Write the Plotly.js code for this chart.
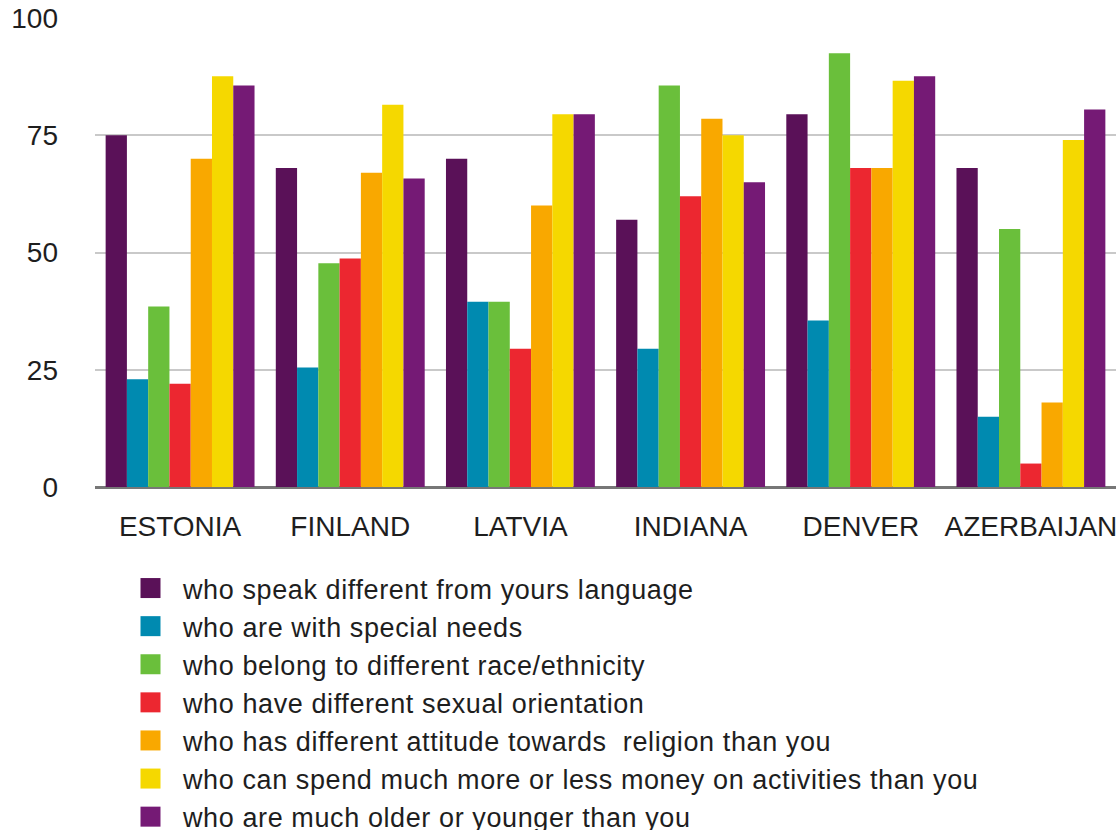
<!DOCTYPE html>
<html>
<head>
<meta charset="utf-8">
<script src="https://cdn.plot.ly/plotly-3.0.1.min.js"></script>
<style>
html,body{margin:0;padding:0;background:#fff;}
#chart{width:1119px;height:830px;}
text.legendtext{letter-spacing:0.6px;}
</style>
</head>
<body>
<div id="chart"></div>
<script>
const categories = ["ESTONIA", "FINLAND", "LATVIA", "INDIANA", "DENVER", "AZERBAIJAN"];
const seriesNames = [
  "who speak different from yours language",
  "who are with special needs",
  "who belong to different race/ethnicity",
  "who have different sexual orientation",
  "who has different attitude towards  religion than you",
  "who can spend much more or less money on activities than you",
  "who are much older or younger than you"
];
const language     = [75, 68, 70, 57, 79.5, 68];
const specialNeeds = [23, 25.5, 39.5, 29.5, 35.5, 15];
const race         = [38.5, 47.7, 39.5, 85.6, 92.5, 55];
const sexual       = [22, 48.7, 29.5, 62, 68, 5];
const religion     = [70, 67, 60, 78.5, 68, 18];
const money        = [87.6, 81.5, 79.5, 75, 86.6, 74];
const age          = [85.6, 65.8, 79.5, 65, 87.6, 80.5];
const colors = ["#5a1158", "#008ab0", "#6abf3b", "#ec2730", "#f9a800", "#f5d800", "#751a75"];
const yTicks = [0, 25, 50, 75, 100];

const allValues = [language, specialNeeds, race, sexual, religion, money, age];
const font = "Liberation Sans, Arial, Helvetica, sans-serif";

const traces = allValues.map((vals, i) => ({
  type: "bar",
  x: categories,
  y: vals,
  name: seriesNames[i],
  marker: {color: colors[i], line: {width: 0}},
  hoverinfo: "y+name"
}));

const layout = {
  width: 1119,
  height: 830,
  margin: {l: 95, r: 3, t: 18, b: 343, autoexpand: false},
  paper_bgcolor: "#ffffff",
  plot_bgcolor: "#ffffff",
  barmode: "group",
  bargap: 0.125,
  bargroupgap: 0,
  font: {family: font, color: "#1e1e1e", size: 28},
  xaxis: {
    type: "category",
    tickfont: {family: font, size: 28, color: "#1e1e1e"},
    ticks: "",
    showline: false,
    showgrid: false,
    tickangle: 0,
    ticklabelstandoff: 20,
    fixedrange: true
  },
  yaxis: {
    range: [0, 100],
    tickvals: yTicks,
    ticktext: yTicks.map(String),
    tickfont: {family: font, size: 28, color: "#1e1e1e"},
    showgrid: true,
    gridcolor: "#c9c9c9",
    gridwidth: 2,
    zeroline: true,
    zerolinecolor: "#777777",
    zerolinewidth: 3,
    showline: false,
    ticks: "",
    ticklabelstandoff: 36,
    fixedrange: true
  },
  showlegend: true,
  legend: {
    orientation: "v",
    xref: "container",
    yref: "container",
    x: 118 / 1119,
    xanchor: "left",
    y: 1 - 564 / 830,
    yanchor: "top",
    traceorder: "normal",
    itemwidth: 55,
    font: {family: font, size: 27, color: "#1e1e1e"},
    bgcolor: "rgba(0,0,0,0)"
  }
};

function enlargeSwatches(gd) {
  gd.querySelectorAll(".legend .legendpoints path").forEach(p => {
    p.setAttribute("d", "M10,10H-10V-10H10Z");
  });
}

Plotly.newPlot("chart", traces, layout, {displayModeBar: false, staticPlot: true}).then(gd => {
  enlargeSwatches(gd);
  gd.on && gd.on("plotly_afterplot", () => enlargeSwatches(gd));
  setTimeout(() => enlargeSwatches(gd), 50);
});
</script>
</body>
</html>
